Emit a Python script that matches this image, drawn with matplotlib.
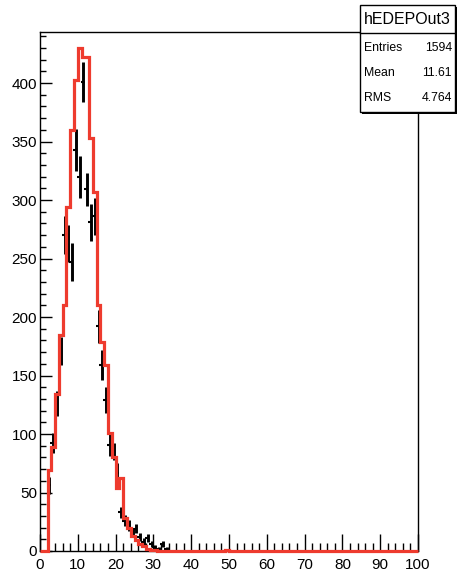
import numpy as np
import matplotlib
matplotlib.use("Agg")
import matplotlib.pyplot as plt
from matplotlib.ticker import MultipleLocator
from matplotlib.patches import Rectangle

plt.rcParams['font.family'] = ['Liberation Sans', 'DejaVu Sans']

# ---- data ----
bin_edges = np.arange(0, 101, 1)
red_values = [0, 0, 69, 89, 134, 185, 210, 294, 360, 403,
              430, 422, 422, 353, 307, 210, 179, 159, 101, 80,
              54, 62, 28, 20, 13, 9, 6, 4, 2, 1,
              1, 0, 0, 0, 0, 0, 0, 0, 0, 0,
              0, 0, 0, 0, 0, 0, 0, 0, 0, 1,
              0, 0, 0, 0, 0, 0, 0, 0, 0, 0,
              0, 0, 0, 0, 0, 0, 0, 0, 0, 0,
              0, 0, 0, 0, 0, 0, 0, 0, 0, 0,
              0, 0, 0, 0, 0, 0, 0, 0, 0, 0,
              0, 0, 0, 0, 0, 0, 0, 0, 0, 0]
black_values = [0, 0, 56, 92, 126, 171, 270, 263, 247, 343,
                320, 401, 309, 281, 286, 192, 159, 129, 91, 85,
                67, 33, 26, 22, 16, 19, 12, 8, 11, 6,
                3, 2, 6, 2]
black_errors = [0, 0, 7, 8.5, 11, 12, 16, 16, 16, 18,
                18, 17, 14, 16, 16, 14, 13, 11, 9.5, 7,
                8.5, 5, 5, 4.5, 4, 4, 3.5, 3, 3.5, 2.5,
                2, 1.5, 2.5, 1.5]
hist_name = "hEDEPOut3"
stat_labels = ["Entries", "Mean", "RMS"]
stat_values = ["1594", "11.61", "4.764"]

W, H = 457, 576
fig = plt.figure(figsize=(W / 100, H / 100), dpi=100)
L, R, T, B = 40, 418, 32, 551
ax = fig.add_axes([L / W, 1 - B / H, (R - L) / W, (B - T) / H])

centers = (bin_edges[:-1] + bin_edges[1:]) / 2
nb = len(black_values)
bx = centers[:nb]
bv = np.array(black_values, float)
be = np.array(black_errors, float)
mask = bv > 0
ax.vlines(bx[mask], bv[mask] - be[mask], bv[mask] + be[mask], color='black', lw=2.1, zorder=2)
ax.plot(bx[mask] - 0.25, bv[mask], marker='_', ms=3, mew=1.5, ls='none', color='black', zorder=2)

ax.stairs(red_values, bin_edges, color='#ee3b2e', lw=2.3, zorder=3, clip_on=False)

ax.set_xlim(0, 100)
ax.set_ylim(0, 443.6)

ax.xaxis.set_major_locator(MultipleLocator(10))
ax.xaxis.set_minor_locator(MultipleLocator(2))
ax.yaxis.set_major_locator(MultipleLocator(50))
ax.yaxis.set_minor_locator(MultipleLocator(10))
ax.tick_params(axis='x', which='major', direction='in', length=12, width=1, labelsize=11, pad=5,
               top=False, color='black')
ax.tick_params(axis='x', which='minor', direction='in', length=6, width=1, top=False)
ax.tick_params(axis='y', which='major', direction='in', length=8.5, width=1, labelsize=11, pad=2,
               right=False)
ax.tick_params(axis='y', which='minor', direction='in', length=4.3, width=1, right=False)
for s in ax.spines.values():
    s.set_linewidth(1.0)

# ---- stat box ----
bx0, bx1, by0, by1 = 360, 455, 5, 112
sep = 33
def fx(px):
    return px / W
def fy(py):
    return 1 - py / H
shadow = Rectangle((fx(bx0 + 2), fy(by1 + 2)), fx(bx1 - bx0), (by1 - by0) / H,
                   transform=fig.transFigure, facecolor='black', edgecolor='none', zorder=9)
fig.patches.append(shadow)
box = Rectangle((fx(bx0), fy(by1)), fx(bx1 - bx0), (by1 - by0) / H,
                transform=fig.transFigure, facecolor='white', edgecolor='black', lw=1.0, zorder=10)
fig.patches.append(box)
fig.add_artist(plt.Line2D([fx(bx0), fx(bx1)], [fy(sep), fy(sep)], transform=fig.transFigure,
                          color='black', lw=1.0, zorder=11))
fig.text(fx((bx0 + bx1) / 2), fy(19), hist_name, ha='center', va='center', fontsize=11.5, zorder=12)
rows_y = [48, 73, 98]
for lab, val, yy in zip(stat_labels, stat_values, rows_y):
    fig.text(fx(364), fy(yy), lab, ha='left', va='center', fontsize=8.8, zorder=12)
    fig.text(fx(452), fy(yy), val, ha='right', va='center', fontsize=8.8, zorder=12)

fig.savefig("out.png", dpi=100)
